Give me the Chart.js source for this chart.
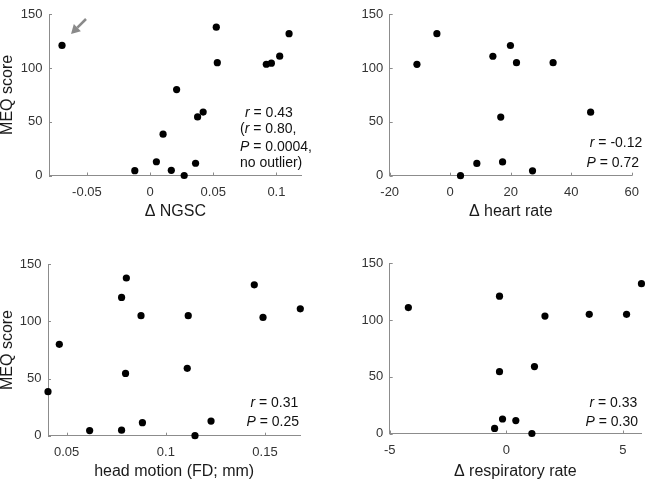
<!DOCTYPE html>
<html>
<head>
<meta charset="utf-8">
<script src="https://cdn.jsdelivr.net/npm/chart.js@4/dist/chart.umd.min.js"></script>
<style>
  body { margin: 0; width: 648px; height: 479px; overflow: hidden; background: #fff; position: relative; }
  canvas { position: absolute; }
</style>
</head>
<body>
<canvas id="ngscChart" width="324" height="220" style="left:0;top:0"></canvas>
<canvas id="heartChart" width="324" height="220" style="left:324px;top:0"></canvas>
<canvas id="motionChart" width="324" height="240" style="left:0;top:240px"></canvas>
<canvas id="respChart" width="324" height="240" style="left:324px;top:240px"></canvas>
<script>
// MEQ score vs. each measure
const ngsc = [-0.0697, 0.0524, 0.110, 0.0532, 0.1026, 0.092, 0.096, 0.021, 0.042, 0.0376, 0.0103, 0.005, -0.0121, 0.0168, 0.036, 0.027];
const meqNgsc = [121, 138, 132, 105, 111, 103.5, 104.5, 80, 59, 54.5, 38.5, 12.8, 4.5, 4.8, 11.4, 0];

const heartRate = [-11.0, -4.4, 14.1, 19.9, 21.9, 34.0, 46.4, 16.7, 8.8, 17.3, 27.2, 3.4];
const meqHeart = [103.5, 132, 111, 121, 105, 105, 59, 54.5, 11.4, 12.8, 4.5, 0];

const headMotion = [0.0406, 0.0463, 0.0616, 0.0777, 0.0777, 0.0801, 0.0797, 0.0875, 0.0882, 0.1113, 0.1108, 0.1147, 0.1228, 0.1446, 0.149, 0.1678];
const meqMotion = [38.5, 80, 4.5, 121, 4.8, 138, 54.5, 105, 11.4, 105, 59, 0, 12.8, 132, 103.5, 111];

const respRate = [-4.2, -0.29, -0.29, -0.16, -0.5, 0.41, 1.1, 1.21, 1.66, 3.56, 5.16, 5.8];
const meqResp = [111, 121, 54.5, 12.8, 4.5, 11.4, 0, 59, 103.5, 105, 105, 132];

const yTicks = [0, 50, 100, 150];
const ngscTicks = [-0.05, 0, 0.05, 0.1];
const heartTicks = [-20, 0, 20, 40, 60];
const motionTicks = [0.05, 0.1, 0.15];
const respTicks = [-5, 0, 5];

const AXIS = '#8c8c8c';
const FONT = "'Liberation Sans', Arial, sans-serif";

// inward tick marks, MATLAB style
const innerTicks = {
  id: 'innerTicks',
  afterDraw(chart) {
    const { ctx, chartArea: a, scales } = chart;
    ctx.save();
    ctx.strokeStyle = AXIS;
    ctx.lineWidth = 1;
    ctx.beginPath();
    scales.x.ticks.forEach(t => {
      const px = Math.round(scales.x.getPixelForValue(t.value)) + 0.5;
      ctx.moveTo(px, a.bottom);
      ctx.lineTo(px, a.bottom - 3);
    });
    scales.y.ticks.forEach(t => {
      const py = Math.round(scales.y.getPixelForValue(t.value)) + 0.5;
      ctx.moveTo(a.left, py);
      ctx.lineTo(a.left + 3, py);
    });
    ctx.stroke();
    ctx.restore();
  }
};

// r / P annotations and the outlier arrow
const notes = {
  id: 'notes',
  afterDraw(chart, args, opts) {
    const ctx = chart.ctx;
    ctx.save();
    ctx.fillStyle = '#111';
    ctx.textBaseline = 'middle';
    (opts.lines || []).forEach(line => {
      const parts = line.parts.map(p => {
        ctx.font = (p.italic ? 'italic ' : '') + '14px ' + FONT;
        return { ...p, w: ctx.measureText(p.text).width };
      });
      const total = parts.reduce((s, p) => s + p.w, 0);
      let x = line.align === 'right' ? line.x - total : line.x;
      parts.forEach(p => {
        ctx.font = (p.italic ? 'italic ' : '') + '14px ' + FONT;
        ctx.textAlign = 'left';
        ctx.fillText(p.text, x, line.y);
        x += p.w;
      });
    });
    if (opts.arrow) {
      const [x0, y0, x1, y1] = opts.arrow;
      const ang = Math.atan2(y1 - y0, x1 - x0);
      const hl = 9, hw = 5;
      const bx = x1 - hl * Math.cos(ang), by = y1 - hl * Math.sin(ang);
      ctx.strokeStyle = '#8a8a8a';
      ctx.fillStyle = '#8a8a8a';
      ctx.lineWidth = 2.5;
      ctx.beginPath();
      ctx.moveTo(x0, y0);
      ctx.lineTo(bx, by);
      ctx.stroke();
      ctx.beginPath();
      ctx.moveTo(x1, y1);
      ctx.lineTo(bx - hw * Math.sin(ang), by + hw * Math.cos(ang));
      ctx.lineTo(bx + hw * Math.sin(ang), by - hw * Math.cos(ang));
      ctx.closePath();
      ctx.fill();
    }
    ctx.restore();
  }
};

function r(v) { return [{ text: 'r', italic: true }, { text: ' = ' + v }]; }
function p(v) { return [{ text: 'P', italic: true }, { text: ' = ' + v }]; }

function makeChart(id, xs, ys, o) {
  new Chart(document.getElementById(id), {
    type: 'scatter',
    data: {
      datasets: [{
        data: xs.map((x, i) => ({ x: x, y: ys[i] })),
        backgroundColor: '#000',
        borderColor: '#000',
        pointRadius: 3.6,
        borderWidth: 0,
        clip: false
      }]
    },
    options: {
      responsive: false,
      animation: false,
      events: [],
      layout: { autoPadding: false, padding: { top: o.padTop, right: o.padRight, left: 0, bottom: 0 } },
      plugins: {
        legend: { display: false },
        tooltip: { enabled: false },
        notes: { lines: o.lines, arrow: o.arrow }
      },
      scales: {
        x: {
          type: 'linear', min: o.xMin, max: o.xMax,
          afterBuildTicks: s => { s.ticks = o.xTicks.map(v => ({ value: v })); },
          afterFit: s => { s.height = o.xHeight; },
          grid: { display: false, drawTicks: false },
          border: { display: true, color: AXIS },
          ticks: { padding: 9, color: '#333', font: { family: FONT, size: 13 }, maxRotation: 0, callback: v => String(v) },
          title: { display: true, text: o.xTitle, color: '#1a1a1a', padding: 0, font: { family: FONT, size: 16, lineHeight: 1 } }
        },
        y: {
          type: 'linear', min: 0, max: 150,
          afterBuildTicks: s => { s.ticks = yTicks.map(v => ({ value: v })); },
          afterFit: s => { s.width = o.yWidth; },
          grid: { display: false, drawTicks: false },
          border: { display: true, color: AXIS },
          ticks: { padding: 6.5, color: '#333', font: { family: FONT, size: 13 }, callback: v => String(v) },
          title: { display: !!o.yTitle, text: o.yTitle || '', color: '#1a1a1a', padding: 0, font: { family: FONT, size: 16, lineHeight: 1 } }
        }
      }
    },
    plugins: [innerTicks, notes]
  });
}

makeChart('ngscChart', ngsc, meqNgsc, {
  xMin: -0.08, xMax: 0.12, xTicks: ngscTicks, xTitle: 'Δ NGSC', yTitle: 'MEQ score',
  yWidth: 49, xHeight: 44.5, padTop: 5, padRight: 22.3,
  lines: [
    { x: 245, y: 113.3, parts: r('0.43') },
    { x: 240, y: 129.3, parts: [{ text: '(' }].concat(r('0.80,')) },
    { x: 240, y: 146.7, parts: p('0.0004,') },
    { x: 240, y: 163.5, parts: [{ text: 'no outlier)' }] }
  ],
  arrow: [86, 19, 71, 34]
});

makeChart('heartChart', heartRate, meqHeart, {
  xMin: -20, xMax: 60, xTicks: heartTicks, xTitle: 'Δ heart rate',
  yWidth: 65.7, xHeight: 44.3, padTop: 5, padRight: 6,
  lines: [
    { align: 'right', x: 318.3, y: 143.3, parts: r('-0.12') },
    { align: 'right', x: 315, y: 162.7, parts: p('0.72') }
  ]
});

makeChart('motionChart', headMotion, meqMotion, {
  xMin: 0.0406, xMax: 0.1678, xTicks: motionTicks, xTitle: 'head motion (FD; mm)', yTitle: 'MEQ score',
  yWidth: 48, xHeight: 44.3, padTop: 24.3, padRight: 23.7,
  lines: [
    { align: 'right', x: 298.3, y: 163.3, parts: r('0.31') },
    { align: 'right', x: 299, y: 181.7, parts: p('0.25') }
  ]
});

makeChart('respChart', respRate, meqResp, {
  xMin: -5, xMax: 5.78, xTicks: respTicks, xTitle: 'Δ respiratory rate',
  yWidth: 65.7, xHeight: 46.5, padTop: 23.3, padRight: 7,
  lines: [
    { align: 'right', x: 313.3, y: 162.7, parts: r('0.33') },
    { align: 'right', x: 314, y: 181.7, parts: p('0.30') }
  ]
});
</script>
</body>
</html>
